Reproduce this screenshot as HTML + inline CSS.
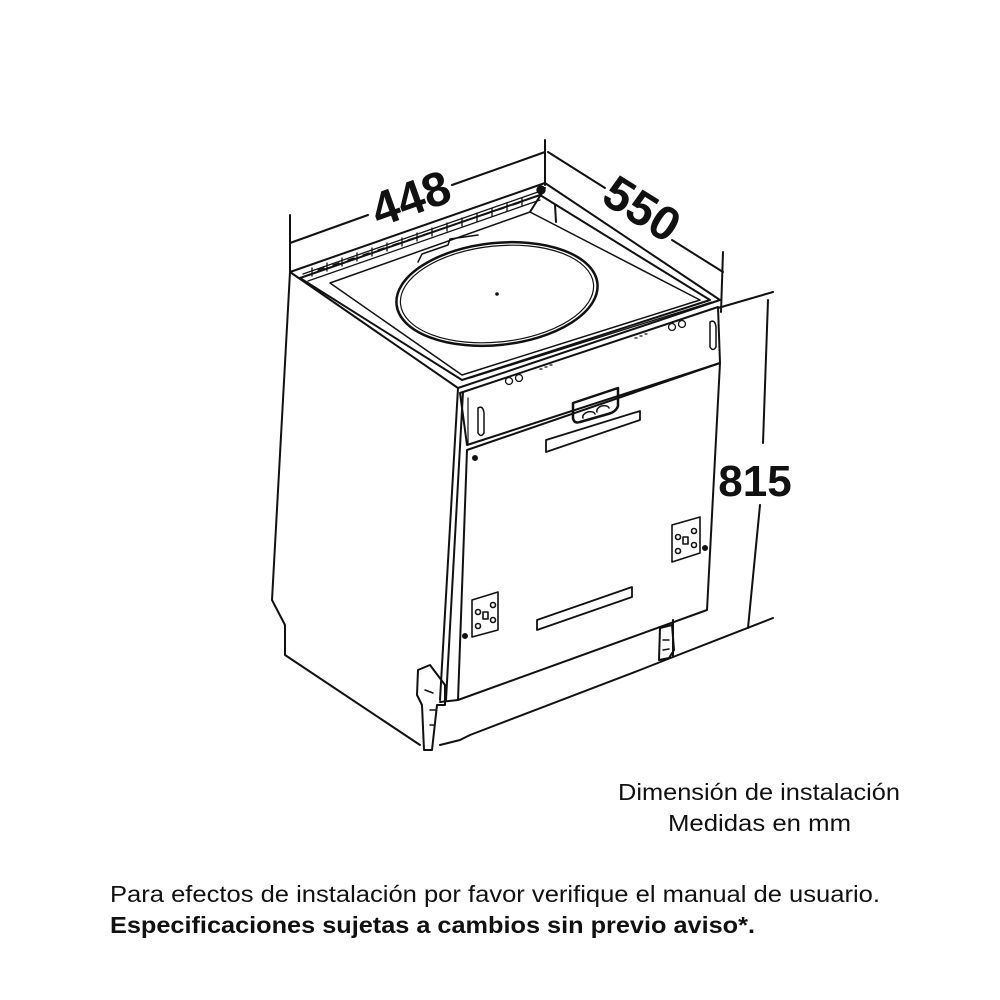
<!DOCTYPE html>
<html><head><meta charset="utf-8"><style>
html,body{margin:0;padding:0;background:#fff;}
svg{display:block;}
text{font-family:"Liberation Sans",sans-serif;fill:#111;}
</style></head><body>
<svg width="1000" height="1000" viewBox="0 0 1000 1000" xmlns="http://www.w3.org/2000/svg">
<g fill="none" stroke="#111" stroke-width="2" stroke-linejoin="round" stroke-linecap="round">
<!-- dimension lines -->
<line x1="290" y1="215" x2="290" y2="272"/>
<line x1="545" y1="140" x2="545" y2="185"/>
<line x1="290" y1="243" x2="368" y2="215"/>
<line x1="452" y1="185" x2="545" y2="152"/>
<line x1="548" y1="152" x2="605" y2="188"/>
<line x1="672" y1="240" x2="723" y2="272"/>
<line x1="723" y1="252" x2="721" y2="312"/>
<line x1="718" y1="308" x2="773" y2="292"/>
<line x1="768" y1="300" x2="763" y2="443"/>
<line x1="760" y1="505" x2="748" y2="628"/>
<line x1="673" y1="657" x2="773" y2="618"/>
<!-- top face -->
<polygon points="290,272 545,183 720,300 458,388"/>
<polygon points="300,278 540,195 710,300 462,380"/>
<polygon points="330,283 530,212 700,300 462,375" stroke-width="1.5"/>
<line x1="530" y1="212" x2="545" y2="188"/>
<line x1="555" y1="205" x2="556" y2="222"/>
<!-- vent slots on back rim -->
<g stroke-width="1.3">
<line x1="303" y1="274" x2="538" y2="192"/>
<line x1="308" y1="281" x2="540" y2="200"/>
<path d="M312 268 l0 8 M327 263 l0 8 M342 258 l0 8 M357 253 l0 8 M372 248 l0 8 M387 243 l0 8 M402 238 l0 8 M417 233 l0 8 M432 228 l0 8 M447 223 l0 8 M462 218 l0 8 M477 213 l0 8 M492 208 l0 8 M507 203 l0 8 M522 198 l0 8"/>
<path d="M318 270 l6 -2 M333 265 l6 -2 M348 260 l6 -2 M363 255 l6 -2 M378 250 l6 -2 M393 245 l6 -2 M408 240 l6 -2 M423 235 l6 -2 M438 230 l6 -2 M453 225 l6 -2 M468 220 l6 -2 M483 215 l6 -2 M498 210 l6 -2 M513 205 l6 -2"/>
<circle cx="541" cy="190" r="4" fill="#111"/>
<line x1="470" y1="378" x2="712" y2="302"/>
<circle cx="509" cy="381" r="3.5"/><circle cx="519" cy="378" r="3.5"/>
<circle cx="672" cy="327" r="3.5"/><circle cx="682" cy="324" r="3.5"/>
<path d="M540 369 l2 0 M545 367 l2 0 M550 365 l2 0 M635 338 l2 0 M640 336 l2 0 M645 334 l2 0"/>
</g>
<!-- turntable -->
<ellipse cx="497" cy="294" rx="101" ry="51" transform="rotate(-6 497 294)" stroke-width="2.5"/>
<ellipse cx="497" cy="294" rx="97" ry="48" transform="rotate(-6 497 294)" stroke-width="1.2"/>
<path d="M418 262 l4 -8 l26 -9 l2 -6 l28 -4" stroke-width="1.5"/>
<circle cx="497" cy="294" r="1.8" fill="#111" stroke="none"/>
<!-- left side -->
<polyline points="290,272 272,600 285,625 285,655 420,745"/>
<line x1="458" y1="388" x2="440" y2="700"/>
<line x1="463" y1="392" x2="446" y2="700"/>
<!-- control panel -->
<polygon points="460,393 718,307 720,363 467,445"/>
<line x1="468" y1="398" x2="468" y2="445" stroke-width="1.2"/>
<path d="M478 408 q5 -3 6 5 l0 20 q-3 5 -6 0 z" stroke-width="1.5"/>
<path d="M710 322 q5 -3 6 5 l0 20 q-3 5 -6 0 z" stroke-width="1.5"/>
<path d="M573 403 l45 -15 l0 18 q-2 6 -10 8 l-28 8 q-6 2 -7 -4 z" stroke-width="2.5"/>
<path d="M583 418 a6 4 -15 0 1 12 -4 M597 412 a6 4 -15 0 1 12 -4" stroke-width="1.5"/>
<polygon points="546,440 640,411 640,420 546,452" stroke-width="1.8"/>
<!-- door -->
<polygon points="467,450 720,363 707,610 458,700"/>
<polygon points="537,620 632,587 632,597 537,630" stroke-width="1.8"/>
<!-- hinge plates -->
<g stroke-width="1.6">
<polygon points="472,600 498,592 498,630 472,637"/>
<circle cx="478" cy="612" r="2.5"/><circle cx="493" cy="605" r="2.5"/>
<circle cx="478" cy="626" r="2.5"/><circle cx="493" cy="620" r="2.5"/>
<rect x="483" y="612" width="5" height="7"/>
<polygon points="672,525 700,517 700,553 672,562"/>
<circle cx="678" cy="537" r="2.5"/><circle cx="694" cy="531" r="2.5"/>
<circle cx="678" cy="551" r="2.5"/><circle cx="694" cy="545" r="2.5"/>
<rect x="683" y="537" width="5" height="7"/>
</g>
<circle cx="475" cy="458" r="2" fill="#111"/>
<circle cx="705" cy="548" r="2" fill="#111"/>
<circle cx="465" cy="636" r="2" fill="#111"/>
<!-- plinth -->
<line x1="458" y1="700" x2="440" y2="702"/>
<polyline points="440,745 460,740 470,735 640,670 673,657"/>
<line x1="673" y1="657" x2="673" y2="620"/>
<!-- feet brackets -->
<path d="M418 670 l12 -5 l15 20 l0 20 l-8 0 l-5 45 l-8 0 l-2 -45 l-5 -10 z" stroke-width="2"/>
<path d="M425 690 l8 3 M430 710 l5 0 M430 725 l4 0" stroke-width="1.5"/>
<path d="M660 628 l12 -3 l2 25 l-5 8 l-10 2 z" stroke-width="2"/>
<path d="M663 640 l6 0 M663 650 l6 -1" stroke-width="1.5"/>
</g>
<text transform="translate(412,202) rotate(-19.6)" font-size="48" font-weight="bold" text-anchor="middle" dominant-baseline="middle">448</text>
<text transform="translate(640,212) rotate(32)" font-size="48" font-weight="bold" text-anchor="middle" dominant-baseline="middle">550</text>
<text x="755" y="496" font-size="44" font-weight="bold" text-anchor="middle">815</text>
<text x="618" y="800" font-size="23" textLength="282" lengthAdjust="spacingAndGlyphs">Dimensión de instalación</text>
<text x="668" y="831" font-size="23" textLength="183" lengthAdjust="spacingAndGlyphs">Medidas en mm</text>
<text x="110" y="902" font-size="23" textLength="770" lengthAdjust="spacingAndGlyphs">Para efectos de instalación por favor verifique el manual de usuario.</text>
<text x="110" y="933" font-size="23" font-weight="bold" textLength="645" lengthAdjust="spacingAndGlyphs">Especificaciones sujetas a cambios sin previo aviso*.</text>
</svg>
</body></html>
